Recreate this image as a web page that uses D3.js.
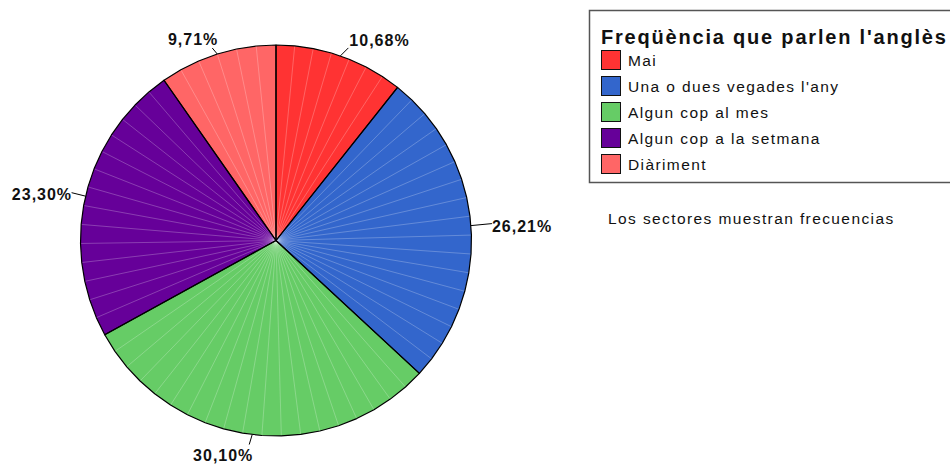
<!DOCTYPE html>
<html>
<head>
  <meta charset="utf-8">
  <title>Freqüència que parlen l'anglès</title>
  <style type="text/css">
    body { margin: 0; background: #fff; }
    svg { display: block; font-family: "Liberation Sans", Arial, sans-serif; }
    .pct { font-weight: bold; font-size: 16px; fill: #111; letter-spacing: 1px; }
    .leg { font-size: 15.5px; fill: #111; letter-spacing: 1.4px; }
  </style>
</head>
<body>
<svg id="vis" width="950" height="467"></svg>

<script src="https://cdnjs.cloudflare.com/ajax/libs/d3/7.8.5/d3.min.js"></script>
<script type="text/javascript">
  // data
  var categories = ['Mai', 'Una o dues vegades l\'any', 'Algun cop al mes', 'Algun cop a la setmana', 'Diàriment']
  var counts = [11, 27, 31, 24, 10]
  var pctLabels = ['10,68%', '26,21%', '30,10%', '23,30%', '9,71%']
  var colors = ['#ff3333', '#3366cc', '#66cc66', '#660099', '#ff6666']

  var svg = d3.select('#vis')
  var cx = 276, cy = 240.5, r = 195.5

  var pie = d3.pie().sort(null).value(function(d) { return d })
  var arcs = pie(counts)

  var g = svg.append('g').attr('transform', 'translate(' + cx + ',' + cy + ')')

  function pt(a, rad) { return [rad * Math.sin(a), -rad * Math.cos(a)] }

  // each slice drawn as a polygon of thin wedges (like the spss output)
  var step = 5.6 * Math.PI / 180
  arcs.forEach(function(a, i) {
    var n = Math.max(1, Math.round((a.endAngle - a.startAngle) / step))
    var angs = d3.range(n + 1).map(function(k) { return a.startAngle + (a.endAngle - a.startAngle) * k / n })
    var poly = [[0, 0]].concat(angs.map(function(t) { return pt(t, r) }))
    g.append('path')
      .attr('d', 'M' + poly.join('L') + 'Z')
      .attr('fill', colors[i])
    // faint inner lines
    angs.slice(1, -1).forEach(function(t) {
      var p = pt(t, r)
      g.append('line')
        .attr('x1', 0).attr('y1', 0).attr('x2', p[0]).attr('y2', p[1])
        .attr('stroke', '#fff').attr('stroke-opacity', 0.3).attr('stroke-width', 0.8)
    })
    a.poly = poly
  })
  // outlines on top
  arcs.forEach(function(a) {
    g.append('path')
      .attr('d', 'M' + a.poly.join('L') + 'Z')
      .attr('fill', 'none')
      .attr('stroke', '#000')
      .attr('stroke-width', 1.2)
      .attr('stroke-linejoin', 'round')
  })

  // labels with leader lines (dx/dy = end of leader, tx/ty = text offset from there)
  var labelPos = [
    { dx: 8, dy: -8, anchor: 'start', tx: 1, ty: -2 },
    { dx: 21, dy: -2, anchor: 'start', tx: 0, ty: 8.5 },
    { dx: -3, dy: 10, anchor: 'middle', tx: -26, ty: 16.5 },
    { dx: -14, dy: -3.5, anchor: 'end', tx: 0.5, ty: 7 },
    { dx: -5, dy: -6, anchor: 'end', tx: 6, ty: -3 }
  ]
  arcs.forEach(function(a, i) {
    var mid = (a.startAngle + a.endAngle) / 2
    var p = pt(mid, r)
    var lp = labelPos[i]
    var e = [p[0] + lp.dx, p[1] + lp.dy]
    g.append('line')
      .attr('x1', p[0]).attr('y1', p[1]).attr('x2', e[0]).attr('y2', e[1])
      .attr('stroke', '#000').attr('stroke-width', 1)
    g.append('text')
      .attr('class', 'pct')
      .attr('x', e[0] + lp.tx).attr('y', e[1] + lp.ty)
      .attr('text-anchor', lp.anchor)
      .text(pctLabels[i])
  })

  // legend
  var lg = svg.append('g')
  lg.append('rect')
    .attr('x', 589.5).attr('y', 10.5).attr('width', 400).attr('height', 172)
    .attr('fill', '#fff').attr('stroke', '#555').attr('stroke-width', 1.5)
  lg.append('text')
    .attr('x', 601).attr('y', 44)
    .attr('font-weight', 'bold').attr('font-size', '20px').attr('fill', '#111')
    .attr('letter-spacing', '1.8px')
    .text('Freqüència que parlen l\'anglès')
  var yRow = d3.scalePoint().domain(categories).range([60, 164])
  categories.forEach(function(c, i) {
    var y = yRow(c)
    lg.append('rect')
      .attr('x', 601.5).attr('y', y - 9.5).attr('width', 19).attr('height', 19)
      .attr('fill', colors[i]).attr('stroke', '#111').attr('stroke-width', 1)
    lg.append('text')
      .attr('class', 'leg')
      .attr('x', 628).attr('y', y + 5.5)
      .text(c)
  })

  svg.append('text')
    .attr('class', 'leg')
    .attr('x', 608).attr('y', 224)
    .text('Los sectores muestran frecuencias')
</script>
</body>
</html>
